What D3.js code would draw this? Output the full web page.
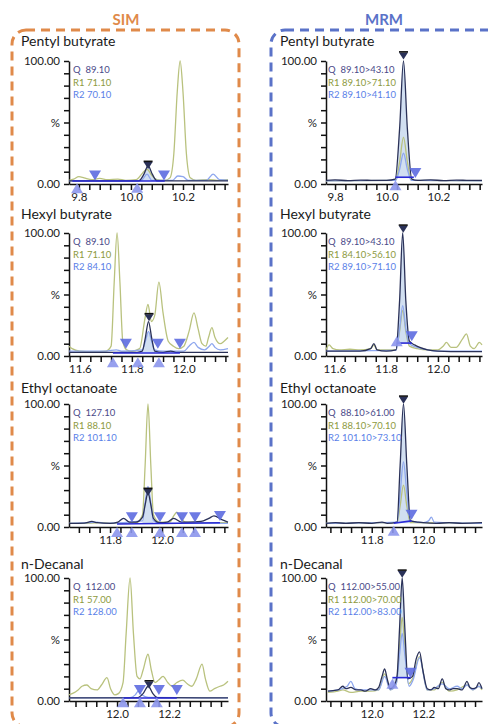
<!DOCTYPE html>
<html>
<head>
<meta charset="utf-8">
<script src="https://cdnjs.cloudflare.com/ajax/libs/d3/7.8.5/d3.min.js"></script>
<style>
body { margin: 0; background: #fff; }
svg { display: block; font-family: Lato, "Open Sans", sans-serif; }
</style>
</head>
<body>
<script>
// compound names and channel labels
var compounds = ["Pentyl butyrate", "Hexyl butyrate", "Ethyl octanoate", "n-Decanal"]
var simLegend = [["Q  89.10", "R1 71.10", "R2 70.10"], ["Q  89.10", "R1 71.10", "R2 84.10"],
                 ["Q  127.10", "R1 88.10", "R2 101.10"], ["Q  112.00", "R1 57.00", "R2 128.00"]]
var mrmLegend = [["Q  89.10>43.10", "R1 89.10>71.10", "R2 89.10>41.10"], ["Q  89.10>43.10", "R1 84.10>56.10", "R2 89.10>71.10"],
                 ["Q  88.10>61.00", "R1 88.10>70.10", "R2 101.10>73.10"], ["Q  112.00>55.00", "R1 112.00>70.00", "R2 112.00>83.00"]]

// retention time windows (min)
var simDomains = [[9.762, 10.373], [11.558, 12.17], [11.642, 12.254], [11.815, 12.427]]
var mrmDomains = [[9.765, 10.369], [11.568, 12.17], [11.623, 12.227], [11.823, 12.427]]

// ---- SIM traces [time, %] ----
var sim1Q = [[9.762,2.5],[9.9,2.5],[10.03,2.6],[10.05,8],[10.066,15],[10.082,8],[10.1,2.6],[10.25,2.5],[10.373,2.5]]
var sim1R1 = [[9.762,3],[9.78,4],[9.80,6],[9.82,5],[9.85,3.5],[9.88,4.5],[9.91,3.5],[9.95,4],[9.98,3],[10.02,3.5],[10.045,9],[10.062,12],[10.08,7],[10.1,3.5],[10.13,3],[10.15,5],[10.165,25],[10.178,75],[10.189,100],[10.2,75],[10.213,25],[10.228,5],[10.25,3],[10.3,3.5],[10.33,3],[10.373,3.5]]
var sim1R2 = [[9.762,2.5],[10.0,2.5],[10.04,3],[10.062,8],[10.08,3],[10.16,3],[10.18,6.5],[10.2,6],[10.22,3],[10.29,3],[10.316,8],[10.34,3.5],[10.373,3]]

var sim2Q = [[11.558,3],[11.65,3],[11.75,3],[11.82,3],[11.84,4],[11.852,15],[11.864,28],[11.876,15],[11.888,4],[11.92,3],[11.95,4],[11.97,3],[12.17,3]]
var sim2R1 = [[11.558,8],[11.57,6],[11.6,4],[11.65,3.5],[11.7,4],[11.72,8],[11.732,60],[11.743,100],[11.754,60],[11.765,12],[11.78,5],[11.8,4],[11.83,6],[11.85,30],[11.862,42],[11.875,28],[11.888,33],[11.904,60],[11.92,35],[11.94,12],[11.96,8],[11.98,6],[12.0,8],[12.02,20],[12.039,35],[12.055,22],[12.07,10],[12.085,8],[12.095,15],[12.108,23],[12.12,15],[12.14,10],[12.155,12],[12.17,15]]
var sim2R2 = [[11.558,4],[11.7,4],[11.74,5],[11.76,4],[11.84,5],[11.852,12],[11.864,20],[11.876,12],[11.888,5],[11.92,4],[12.0,4],[12.02,8],[12.039,11],[12.055,7],[12.08,5],[12.098,8],[12.108,10],[12.12,7],[12.14,5],[12.17,6]]

var sim3Q = [[11.642,3],[11.7,3.2],[11.73,4.5],[11.75,3.5],[11.8,3],[11.83,4],[11.852,7],[11.875,4],[11.9,4],[11.925,8],[11.935,18],[11.946,28],[11.957,18],[11.967,7],[11.99,3.5],[12.02,4],[12.045,7],[12.075,4],[12.1,4],[12.15,4.5],[12.18,7],[12.2,9],[12.23,6],[12.254,4]]
var sim3R1 = [[11.642,3],[11.7,3],[11.76,3.5],[11.8,3],[11.85,3],[11.9,3.5],[11.925,10],[11.935,50],[11.946,100],[11.957,50],[11.967,10],[11.99,4],[12.03,4],[12.045,9],[12.057,12],[12.07,8],[12.09,4],[12.15,3.5],[12.254,3.5]]
var sim3R2 = [[11.642,3],[11.72,3.5],[11.75,4],[11.78,3],[11.925,5],[11.935,20],[11.946,33],[11.957,20],[11.967,5],[11.99,3],[12.254,3]]

var sim4Q = [[11.815,2.5],[12.0,2.5],[12.08,2.8],[12.1,6],[12.12,12],[12.138,6],[12.155,2.8],[12.427,2.5]]
var sim4R1 = [[11.815,5],[11.827,6],[11.85,9],[11.865,12],[11.884,13],[11.9,10],[11.923,9],[11.94,13],[11.961,19],[11.975,10],[11.992,5],[12.005,6],[12.023,15],[12.035,55],[12.05,100],[12.063,55],[12.077,20],[12.088,18],[12.1,25],[12.119,38],[12.132,25],[12.146,15],[12.16,17],[12.177,20],[12.195,15],[12.211,12],[12.23,15],[12.253,17],[12.27,14],[12.288,12],[12.305,18],[12.327,30],[12.34,18],[12.357,8],[12.375,10],[12.396,12],[12.41,13],[12.427,16]]
var sim4R2 = [[11.815,2.5],[12.05,2.8],[12.07,5],[12.082,8],[12.095,5],[12.12,3],[12.427,2.5]]

// ---- MRM traces [time, %] ----
var mrm1Q = [[9.765,3],[9.8,3.3],[9.85,2.8],[9.9,3.2],[9.95,2.9],[10.0,3],[10.033,4],[10.05,45],[10.065,100],[10.08,45],[10.097,4],[10.12,3],[10.17,3.3],[10.22,2.8],[10.27,3.2],[10.32,2.9],[10.369,3]]
var mrm1R1 = [[9.765,2.5],[10.035,3],[10.05,18],[10.065,38],[10.08,18],[10.095,3],[10.369,2.5]]
var mrm1R2 = [[9.765,2.5],[10.035,3],[10.05,12],[10.065,25],[10.08,12],[10.095,3],[10.369,2.5]]

var mrm2Q = [[11.568,4],[11.62,4],[11.7,4],[11.74,6],[11.753,10],[11.765,5],[11.8,4],[11.838,5],[11.852,45],[11.864,100],[11.876,45],[11.89,12],[11.91,9],[11.93,7],[11.96,5],[12.0,4],[12.1,3.5],[12.17,3.5]]
var mrm2R1 = [[11.568,5],[11.58,9],[11.595,6],[11.62,5],[11.66,5.5],[11.7,5],[11.74,6],[11.753,9],[11.765,5],[11.8,5],[11.838,5],[11.852,20],[11.864,37],[11.876,20],[11.89,8],[11.92,6],[11.96,5],[12.0,5],[12.02,8],[12.033,11],[12.05,7],[12.07,7],[12.095,14],[12.11,18],[12.125,8],[12.14,6],[12.16,11],[12.17,9]]
var mrm2R2 = [[11.568,4],[11.838,4.5],[11.852,22],[11.864,41],[11.876,22],[11.89,10],[11.92,7],[11.96,5],[12.0,4],[12.17,4]]

var mrm3Q = [[11.623,3],[11.66,3.5],[11.7,3],[11.75,3.5],[11.8,3],[11.84,4],[11.86,3],[11.898,4],[11.91,50],[11.923,100],[11.936,50],[11.95,5],[11.98,4],[12.0,3.5],[12.05,3],[12.1,3.5],[12.15,3],[12.227,3.5]]
var mrm3R1 = [[11.623,3],[11.898,3.5],[11.91,17],[11.923,34],[11.936,17],[11.95,3.5],[12.227,3]]
var mrm3R2 = [[11.623,3],[11.898,4],[11.91,27],[11.923,53],[11.936,27],[11.95,5],[12.0,3.5],[12.02,5],[12.031,8],[12.042,4],[12.227,3]]

var mrm4Q = [[11.831,8],[11.85,8.5],[11.869,9],[11.888,12],[11.9,10],[11.919,11],[11.94,9],[11.958,9],[11.975,8],[11.996,10],[12.015,9],[12.027,11],[12.04,20],[12.05,26],[12.06,18],[12.072,10],[12.088,13],[12.098,20],[12.108,60],[12.118,100],[12.128,60],[12.14,18],[12.158,20],[12.172,34],[12.185,40],[12.198,25],[12.215,10],[12.23,9],[12.242,11],[12.258,10],[12.273,18],[12.287,10],[12.3,9],[12.315,10],[12.331,10],[12.35,9],[12.369,16],[12.38,11],[12.392,10],[12.405,11],[12.415,15],[12.427,10]]
var mrm4R1 = [[11.831,7],[11.869,8],[11.888,9],[11.919,7],[11.958,8],[11.996,8],[12.027,9],[12.05,22],[12.072,9],[12.095,14],[12.108,45],[12.118,68],[12.128,45],[12.142,14],[12.158,18],[12.185,36],[12.215,9],[12.242,9],[12.273,15],[12.3,8],[12.331,9],[12.369,13],[12.392,9],[12.415,12],[12.427,9]]
var mrm4R2 = [[11.831,8],[11.869,9],[11.905,12],[11.919,16],[11.935,10],[11.958,9],[11.996,9],[12.027,9],[12.05,20],[12.072,9],[12.095,14],[12.108,38],[12.118,55],[12.128,38],[12.145,12],[12.16,17],[12.185,35],[12.215,9],[12.242,10],[12.273,14],[12.3,10],[12.331,12],[12.35,10],[12.369,13],[12.392,9],[12.415,12],[12.427,10]]

// ---- integration markers: down / up triangles, apex, baseline [time, %] ----
var sim1Down = [[9.862,7],[10.127,7]], sim1Up = [[9.793,-3.5],[10.024,-3]], sim1Apex = [10.066,15], sim1Base = [[9.775,2.5],[10.13,2.5]]
var sim2Down = [[11.777,10],[11.9,10],[11.985,10]], sim2Up = [[11.727,-5],[11.823,-5],[11.904,-5]], sim2Apex = [11.866,31], sim2Base = [[11.727,2.5],[11.985,2.5]]
var sim3Down = [[11.884,8],[11.992,8],[12.077,8],[12.127,8],[12.223,9]], sim3Up = [[11.827,-4],[11.884,-4],[11.992,-4],[12.077,-4],[12.127,-4]], sim3Apex = [11.946,28], sim3Base = [[11.827,2.5],[12.223,3.5]]
var sim4Down = [[12.088,9],[12.161,9],[12.23,9]], sim4Up = [[12.023,-1],[12.088,-1],[12.153,-1]], sim4Apex = [12.123,13], sim4Base = [[12.023,2.5],[12.23,2.5]]
var mrm1Down = [[10.111,9]], mrm1Up = [[10.034,-1]], mrm1Apex = [10.065,104], mrm1Base = [[10.034,5.5],[10.105,5.5]]
var mrm2Down = [[11.899,16]], mrm2Up = [[11.841,12]], mrm2Apex = [11.866,103], mrm2Base = [[11.841,10.5],[11.899,10.5]]
var mrm3Down = [[11.954,10]], mrm3Up = [[11.885,-3]], mrm3Apex = [11.923,103], mrm3Base = [[11.885,3],[11.954,5]]
var mrm4Down = [[12.15,23]], mrm4Up = [[12.08,14]], mrm4Apex = [12.118,103], mrm4Base = [[12.08,19],[12.15,19]]

// filled peak: which trace and time window
var simFill = [["Q",10.04,10.092],["R2",11.84,11.89],["R2",11.925,11.967],null]
var mrmFill = [["Q",10.034,10.105],["Q",11.841,11.899],["Q",11.885,11.954],["Q",12.08,12.15]]

var colQ = "#2a3158", colR1 = "#b9c27e", colR2 = "#8ea7ee"
var legendColors = ["#4a4a88", "#8d9a3e", "#5a7fe8"]

var svg = d3.select("body").append("svg").attr("width", 488).attr("height", 724)

// dashed group boxes
svg.append("rect").attr("x", 12).attr("y", 30).attr("width", 227).attr("height", 697).attr("rx", 14)
	.attr("fill", "none").attr("stroke", "#e08a4a").attr("stroke-width", 3).attr("stroke-dasharray", "9,6")
svg.append("rect").attr("x", 271).attr("y", 30).attr("width", 240).attr("height", 697).attr("rx", 14)
	.attr("fill", "none").attr("stroke", "#5a72c8").attr("stroke-width", 3).attr("stroke-dasharray", "9,6")
svg.append("text").attr("x", 126).attr("y", 25).attr("text-anchor", "middle")
	.attr("font-size", 15).attr("font-weight", "bold").attr("fill", "#e08a4a").text("SIM")
svg.append("text").attr("x", 384).attr("y", 25).attr("text-anchor", "middle")
	.attr("font-size", 15).attr("font-weight", "bold").attr("fill", "#5a72c8").text("MRM")

var tops = [61, 233, 404, 578]
var titleY = [46, 219, 393, 569]

var simQ = [sim1Q, sim2Q, sim3Q, sim4Q], simR1 = [sim1R1, sim2R1, sim3R1, sim4R1], simR2 = [sim1R2, sim2R2, sim3R2, sim4R2]
var mrmQ = [mrm1Q, mrm2Q, mrm3Q, mrm4Q], mrmR1 = [mrm1R1, mrm2R1, mrm3R1, mrm4R1], mrmR2 = [mrm1R2, mrm2R2, mrm3R2, mrm4R2]
var simMarks = [[sim1Down, sim1Up, sim1Apex, sim1Base], [sim2Down, sim2Up, sim2Apex, sim2Base], [sim3Down, sim3Up, sim3Apex, sim3Base], [sim4Down, sim4Up, sim4Apex, sim4Base]]
var mrmMarks = [[mrm1Down, mrm1Up, mrm1Apex, mrm1Base], [mrm2Down, mrm2Up, mrm2Apex, mrm2Base], [mrm3Down, mrm3Up, mrm3Apex, mrm3Base], [mrm4Down, mrm4Up, mrm4Apex, mrm4Base]]

function tri(cx, cy, w, h, down) {
	var s = down ? 1 : -1
	return "M" + (cx - w / 2) + "," + (cy - s * h / 2) + "L" + (cx + w / 2) + "," + (cy - s * h / 2) + "L" + cx + "," + (cy + s * h / 2) + "Z"
}

function drawPanel(p) {
	var g = svg.append("g")
	var x = d3.scaleLinear().domain(p.domain).range([p.left, p.right])
	var y = d3.scaleLinear().domain([0, 100]).range([p.top + 123, p.top])

	g.append("text").attr("x", p.titleX).attr("y", p.titleY).attr("font-size", 14).attr("fill", "#1a1a1a").text(p.title)

	// axes: ticks every 0.04 min, labels every 0.2 min (none too close to the right end)
	g.append("g").attr("transform", "translate(" + p.left + ",0)")
		.call(d3.axisLeft(y).tickValues(d3.range(0, 101, 10)).tickSize(5).tickSizeOuter(0).tickPadding(4)
			.tickFormat(function(d) { return d == 100 ? "100.00" : d == 50 ? "%" : d == 0 ? "0.00" : "" }))
	var k0 = Math.ceil(p.domain[0] * 25), k1 = Math.floor(p.domain[1] * 25)
	g.append("g").attr("transform", "translate(0," + (p.top + 123) + ")")
		.call(d3.axisBottom(x).tickValues(d3.range(k0, k1 + 1).map(function(k) { return k / 25 }))
			.tickSize(6).tickSizeOuter(0).tickPadding(3)
			.tickFormat(function(d) { return Math.round(d * 25) % 5 == 0 && x(d) < p.right - 16 ? d.toFixed(1) : "" }))
	g.selectAll(".domain").attr("stroke", "#111").attr("stroke-width", 1.5)
	g.selectAll(".tick line").attr("stroke", "#111").attr("stroke-width", 1.5)
	g.selectAll(".tick text").attr("font-size", 11.5).attr("fill", "#222").attr("font-family", "Lato, sans-serif")

	var line = d3.line().x(function(d) { return x(d[0]) }).y(function(d) { return y(d[1]) }).curve(d3.curveMonotoneX)

	// filled integrated peak
	if (p.fill) {
		var src = p.fill[0] == "Q" ? p.q : p.r2
		var id = "clip" + p.id
		g.append("clipPath").attr("id", id).append("rect")
			.attr("x", x(p.fill[1])).attr("width", x(p.fill[2]) - x(p.fill[1]))
			.attr("y", p.top - 10).attr("height", 140)
		var base = p.marks[3][0][1]
		g.append("path").datum(src).attr("clip-path", "url(#" + id + ")")
			.attr("d", d3.area().x(function(d) { return x(d[0]) }).y0(y(base)).y1(function(d) { return y(d[1]) }).curve(d3.curveMonotoneX))
			.attr("fill", "#c9d9ee").attr("opacity", 0.85)
	}

	g.append("path").datum(p.r1).attr("d", line).attr("fill", "none").attr("stroke", colR1).attr("stroke-width", 1.3)
	g.append("path").datum(p.r2).attr("d", line).attr("fill", "none").attr("stroke", colR2).attr("stroke-width", 1.3)
	g.append("path").datum(p.q).attr("d", line).attr("fill", "none").attr("stroke", colQ).attr("stroke-width", 1.3)

	// integration baseline + markers
	var m = p.marks
	g.append("line").attr("x1", x(m[3][0][0])).attr("y1", y(m[3][0][1])).attr("x2", x(m[3][1][0])).attr("y2", y(m[3][1][1]))
		.attr("stroke", "#2a2ad6").attr("stroke-width", 1.6)
	g.selectAll(".dn").data(m[0]).enter().append("path")
		.attr("d", function(d) { return tri(x(d[0]), y(d[1]), 12, 10, true) })
		.attr("fill", "#5d6be0").attr("opacity", 0.9)
	g.selectAll(".up").data(m[1]).enter().append("path")
		.attr("d", function(d) { return tri(x(d[0]), y(d[1]), 12, 10, false) })
		.attr("fill", "#8c96ec").attr("opacity", 0.9)
	var ax = x(m[2][0]), ay = y(m[2][1])
	g.append("path").attr("d", tri(ax, ay, 9, 7, true)).attr("fill", colQ)
	g.append("rect").attr("x", ax - 4.5).attr("y", ay - 5).attr("width", 9).attr("height", 1.6).attr("fill", "#111")

	// channel legend
	g.selectAll(".lg").data(p.legend).enter().append("text")
		.attr("x", p.left + p.legendDx).attr("y", function(d, i) { return p.top + 12 + i * 12.5 })
		.attr("font-size", 9.5).attr("fill", function(d, i) { return legendColors[i] })
		.attr("xml:space", "preserve").style("white-space", "pre").text(function(d) { return d })
}

for (var i = 0; i < 4; ++i) {
	drawPanel({ id: "s" + i, left: 69, right: 228, top: tops[i], titleX: 21, titleY: titleY[i], title: compounds[i],
		domain: simDomains[i], legend: simLegend[i], legendDx: 4, q: simQ[i], r1: simR1[i], r2: simR2[i],
		marks: simMarks[i], fill: simFill[i] })
	drawPanel({ id: "m" + i, left: 326, right: 482, top: tops[i], titleX: 280, titleY: titleY[i], title: compounds[i],
		domain: mrmDomains[i], legend: mrmLegend[i], legendDx: 2, q: mrmQ[i], r1: mrmR1[i], r2: mrmR2[i],
		marks: mrmMarks[i], fill: mrmFill[i] })
}
</script>
</body>
</html>
